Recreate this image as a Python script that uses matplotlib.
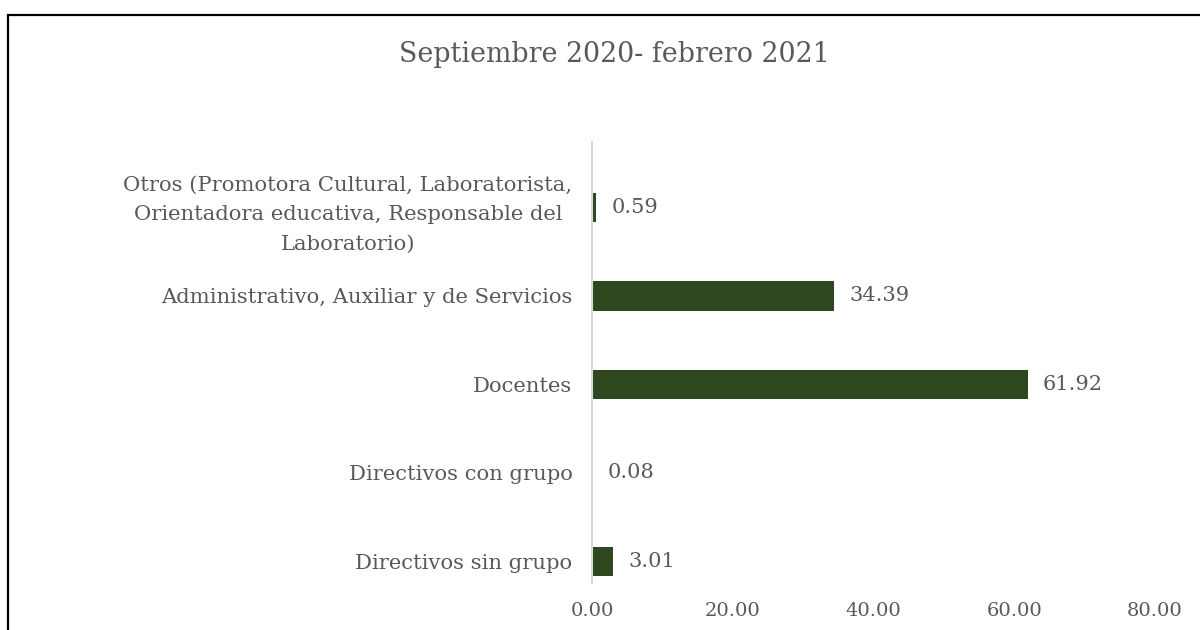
import matplotlib.pyplot as plt
from matplotlib.patches import Rectangle

# datos (porcentaje del personal)
categorias = [
    "Directivos sin grupo",
    "Directivos con grupo",
    "Docentes",
    "Administrativo, Auxiliar y de Servicios",
    "Otros (Promotora Cultural, Laboratorista,\nOrientadora educativa, Responsable del\nLaboratorio)",
]
valores = [3.01, 0.08, 61.92, 34.39, 0.59]
ticks_x = [0, 20, 40, 60, 80]
titulo = "Septiembre 2020- febrero 2021"

gris = "#595959"
verde = "#2E471E"
plt.rcParams["font.family"] = ["DejaVu Serif"]

fig = plt.figure(figsize=(12, 6.3), dpi=100)
ax = fig.add_axes([0.4933, 0.0746, 0.9625 - 0.4933, 0.7000])

pos = list(range(len(categorias)))
barras = ax.barh(pos, valores, height=0.33, color=verde, linewidth=0)
ax.bar_label(barras, labels=[f"{v:.2f}" for v in valores], padding=11,
             color=gris, fontsize=15)

ax.set_xlim(0, 80)
ax.set_ylim(-0.243, 4.74)
ax.set_xticks(ticks_x)
ax.set_xticklabels([f"{t:.2f}" for t in ticks_x])
ax.set_yticks(pos)
ax.set_yticklabels(categorias)
for lab in ax.get_yticklabels():
    lab.set_multialignment("center")
    lab.set_linespacing(1.68)
    lab.set_fontsize(15.2)

ax.tick_params(axis="both", length=0, colors=gris)
ax.tick_params(axis="x", labelsize=14, pad=14)
ax.tick_params(axis="y", pad=14)
for s in ["top", "right", "bottom"]:
    ax.spines[s].set_visible(False)
ax.spines["left"].set_color("#D9D9D9")
ax.spines["left"].set_linewidth(1.5)

fig.text(0.512, 1 - 54 / 630, titulo, ha="center", va="center", fontsize=19.4, color=gris)

# marco del gráfico
fig.patches.append(Rectangle((8 / 1200, -0.1), 1.2, 1.1 - 15 / 630, transform=fig.transFigure,
                             fill=False, edgecolor="black", linewidth=1.6))

fig.savefig("out.png", dpi=100)
